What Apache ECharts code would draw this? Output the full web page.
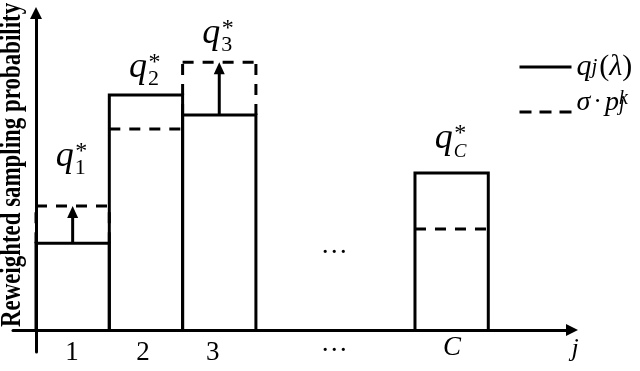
<!DOCTYPE html>
<html><head><meta charset="utf-8">
<script src="https://cdn.jsdelivr.net/npm/echarts@6/dist/echarts.min.js"></script>
<style>html,body{margin:0;padding:0;background:#fff}#c{width:640px;height:371px}</style>
</head><body><div id="c"></div>
<script>
// ---- data ----
const categories = ['1', '2', '3', 'C'];
const xStart = [0, 1, 2, 5.17];            // left edge of each bar (bar width = 1 unit)
const qValues = [0.274, 0.741, 0.678, 0.495]; // q_j(lambda)  (solid)
const pValues = [0.391, 0.634, 0.845, 0.319]; // sigma * p_j^k (dashed)
const tickLabels = ['1', '2', '3', '…', 'C'];
const tickValues = [0.49, 1.46, 2.41, 4.07, 5.675];
const gapMark = [4.07, 0.26];
const legendNames = ['q_j(λ)', 'σ·p_j^k'];
const yAxisName = 'Reweighted sampling probability';
const xAxisName = 'j';

// ---- styles ----
const MATH = "'Liberation Serif', 'Times New Roman', serif";
const BLACK = '#000';
const DASH = [11, 9];
const labelLift = [20, -2, -1, 5];
const MID = 0.3375; // canvas 'middle' offset above baseline (em)

function txt(text, x, baseline, size, italic) {
  return {
    type: 'text',
    style: {
      text: text, x: x, y: baseline - MID * size,
      font: (italic ? 'italic ' : '') + size + 'px ' + MATH,
      fill: BLACK, align: 'left', verticalAlign: 'middle'
    }
  };
}

function renderBar(params, api) {
  const i = params.dataIndex;
  const x0 = api.value(0), q = api.value(1), p = api.value(2);
  const bl = api.coord([x0, 0]);
  const tl = api.coord([x0, q]);
  const tr = api.coord([x0 + 1, q]);
  const br = api.coord([x0 + 1, 0]);
  const yp = api.coord([x0, p])[1];
  const xl = bl[0], xr = br[0], xc = (xl + xr) / 2;
  const children = [];
  children.push({
    type: 'polyline', shape: { points: [bl, tl, tr, br] },
    style: { stroke: BLACK, fill: null, lineWidth: 3, lineJoin: 'miter' }
  });
  children.push({
    type: 'line', shape: { x1: xl, y1: yp, x2: xr, y2: yp },
    style: { stroke: BLACK, lineWidth: 3, lineDash: DASH }
  });
  if (p > q) {
    children.push({ type: 'line', shape: { x1: xl, y1: tl[1], x2: xl, y2: yp },
      style: { stroke: BLACK, lineWidth: 3, lineDash: DASH } });
    children.push({ type: 'line', shape: { x1: xr, y1: tl[1], x2: xr, y2: yp },
      style: { stroke: BLACK, lineWidth: 3, lineDash: DASH } });
    children.push({ type: 'line', shape: { x1: xc, y1: tl[1], x2: xc, y2: yp + 10 },
      style: { stroke: BLACK, lineWidth: 3 } });
    children.push({ type: 'polygon', shape: { points: [[xc, yp], [xc - 5.5, yp + 12], [xc + 5.5, yp + 12]] },
      style: { fill: BLACK } });
  }
  const topY = Math.min(tl[1], yp);
  const subBase = topY - 10 - labelLift[i];
  const qLeft = xc - 17;
  const cat = categories[i];
  const isC = cat === 'C';
  children.push(txt('q', qLeft, subBase - 7, 36, true));
  children.push(txt(cat, qLeft + 19, subBase, isC ? 19 : 22, isC));
  children.push(txt('*', qLeft + 19.5, subBase - 16, 24, false));
  return { type: 'group', children: children };
}

const chart = echarts.init(document.getElementById('c'), null, { renderer: 'canvas' });
chart.setOption({
  animation: false,
  backgroundColor: '#fff',
  grid: { left: 13, right: 68, top: 13, bottom: 19, containLabel: false, outerBoundsMode: 'none' },
  graphic: [{
    type: 'text', x: 12.9, y: 165, rotation: Math.PI / 2, scaleX: 0.79, silent: true,
    style: { text: yAxisName, font: 'bold 29px ' + MATH, fill: BLACK, align: 'center', verticalAlign: 'middle' }
  }],
  xAxis: {
    type: 'value', min: -0.3138, max: 7.312,
    splitLine: { show: false }, axisTick: { show: false },
    axisLine: { show: true, onZero: true, symbol: ['none', 'triangle'], symbolSize: [12, 12],
      lineStyle: { color: BLACK, width: 3 } },
    axisLabel: {
      customValues: tickValues, margin: -12, color: BLACK, hideOverlap: false,
      formatter: function (v) {
        let k = 0, best = 1e9;
        tickValues.forEach(function (t, j) { if (Math.abs(t - v) < best) { best = Math.abs(t - v); k = j; } });
        const s = tickLabels[k];
        if (s === 'C') return '{c|C}';
        if (s === '…') return '{d|…}';
        return '{n|' + s + '}';
      },
      rich: {
        n: { fontFamily: MATH, fontSize: 27, lineHeight: 26, color: BLACK },
        c: { fontFamily: MATH, fontSize: 27, fontStyle: 'italic', lineHeight: 16, color: BLACK },
        d: { fontFamily: MATH, fontSize: 27, lineHeight: 8, color: BLACK }
      }
    },
    name: xAxisName, nameLocation: 'end', nameGap: 3,
    nameTextStyle: { fontFamily: MATH, fontSize: 26, fontStyle: 'italic', color: BLACK,
      align: 'center', verticalAlign: 'top', lineHeight: 39 }
  },
  yAxis: {
    type: 'value', min: -0.0694, max: 1,
    splitLine: { show: false }, axisTick: { show: false }, axisLabel: { show: false },
    axisLine: { show: true, onZero: true, symbol: ['none', 'triangle'], symbolSize: [12, 12],
      lineStyle: { color: BLACK, width: 3 } }
  },
  legend: {
    orient: 'vertical', left: 518, top: 52, padding: 0, itemWidth: 52, itemHeight: 14, itemGap: 7,
    selectedMode: false,
    itemStyle: { opacity: 0 },
    lineStyle: { width: 3 },
    data: [
      { name: legendNames[0], textStyle: { padding: [0, 0, 4, 0] } },
      { name: legendNames[1], textStyle: { padding: [0, 0, 20, 0] } }
    ],
    formatter: function (name) {
      if (name === legendNames[0]) return '{a|q}{as|j}{ar|(}{a|λ}{ar|)}';
      return '{b|σ}{bd|·}{b|p}{bk|k}{bj|j}';
    },
    textStyle: {
      color: BLACK,
      rich: {
        a: { fontFamily: MATH, fontSize: 30, fontStyle: 'italic', lineHeight: 26, verticalAlign: 'top' },
        ar: { fontFamily: MATH, fontSize: 30, lineHeight: 26, verticalAlign: 'top' },
        as: { fontFamily: MATH, fontSize: 21, fontStyle: 'italic', lineHeight: 12, verticalAlign: 'bottom',
          padding: [0, 2, 0, 0] },
        b: { fontFamily: MATH, fontSize: 28, fontStyle: 'italic', lineHeight: 26, verticalAlign: 'top' },
        bd: { fontFamily: MATH, fontSize: 26, lineHeight: 26, verticalAlign: 'top', padding: [0, 3, 0, 3] },
        bk: { fontFamily: MATH, fontSize: 20, fontStyle: 'italic', lineHeight: 9.4, verticalAlign: 'top', width: 0 },
        bj: { fontFamily: MATH, fontSize: 20, fontStyle: 'italic', lineHeight: 14.6, verticalAlign: 'bottom' }
      }
    }
  },
  series: [
    {
      type: 'custom', name: 'bars', clip: false, renderItem: renderBar,
      encode: { x: 0, y: [1, 2] },
      data: categories.map(function (c, i) { return [xStart[i], qValues[i], pValues[i]]; }),
      z: 3
    },
    {
      type: 'scatter', name: 'gap', data: [gapMark], symbolSize: 1,
      itemStyle: { color: 'rgba(0,0,0,0)' },
      label: { show: true, position: 'inside', formatter: '…', fontFamily: MATH, fontSize: 27,
        color: BLACK, opacity: 1, offset: [0, -2] },
      silent: true
    },
    { type: 'line', name: legendNames[0], data: [], symbol: 'none',
      lineStyle: { color: BLACK, width: 3, type: 'solid' }, itemStyle: { color: BLACK, opacity: 0 } },
    { type: 'line', name: legendNames[1], data: [], symbol: 'none',
      lineStyle: { color: BLACK, width: 3, type: [12, 8] }, itemStyle: { color: BLACK, opacity: 0 } }
  ]
});
</script>
</body></html>
